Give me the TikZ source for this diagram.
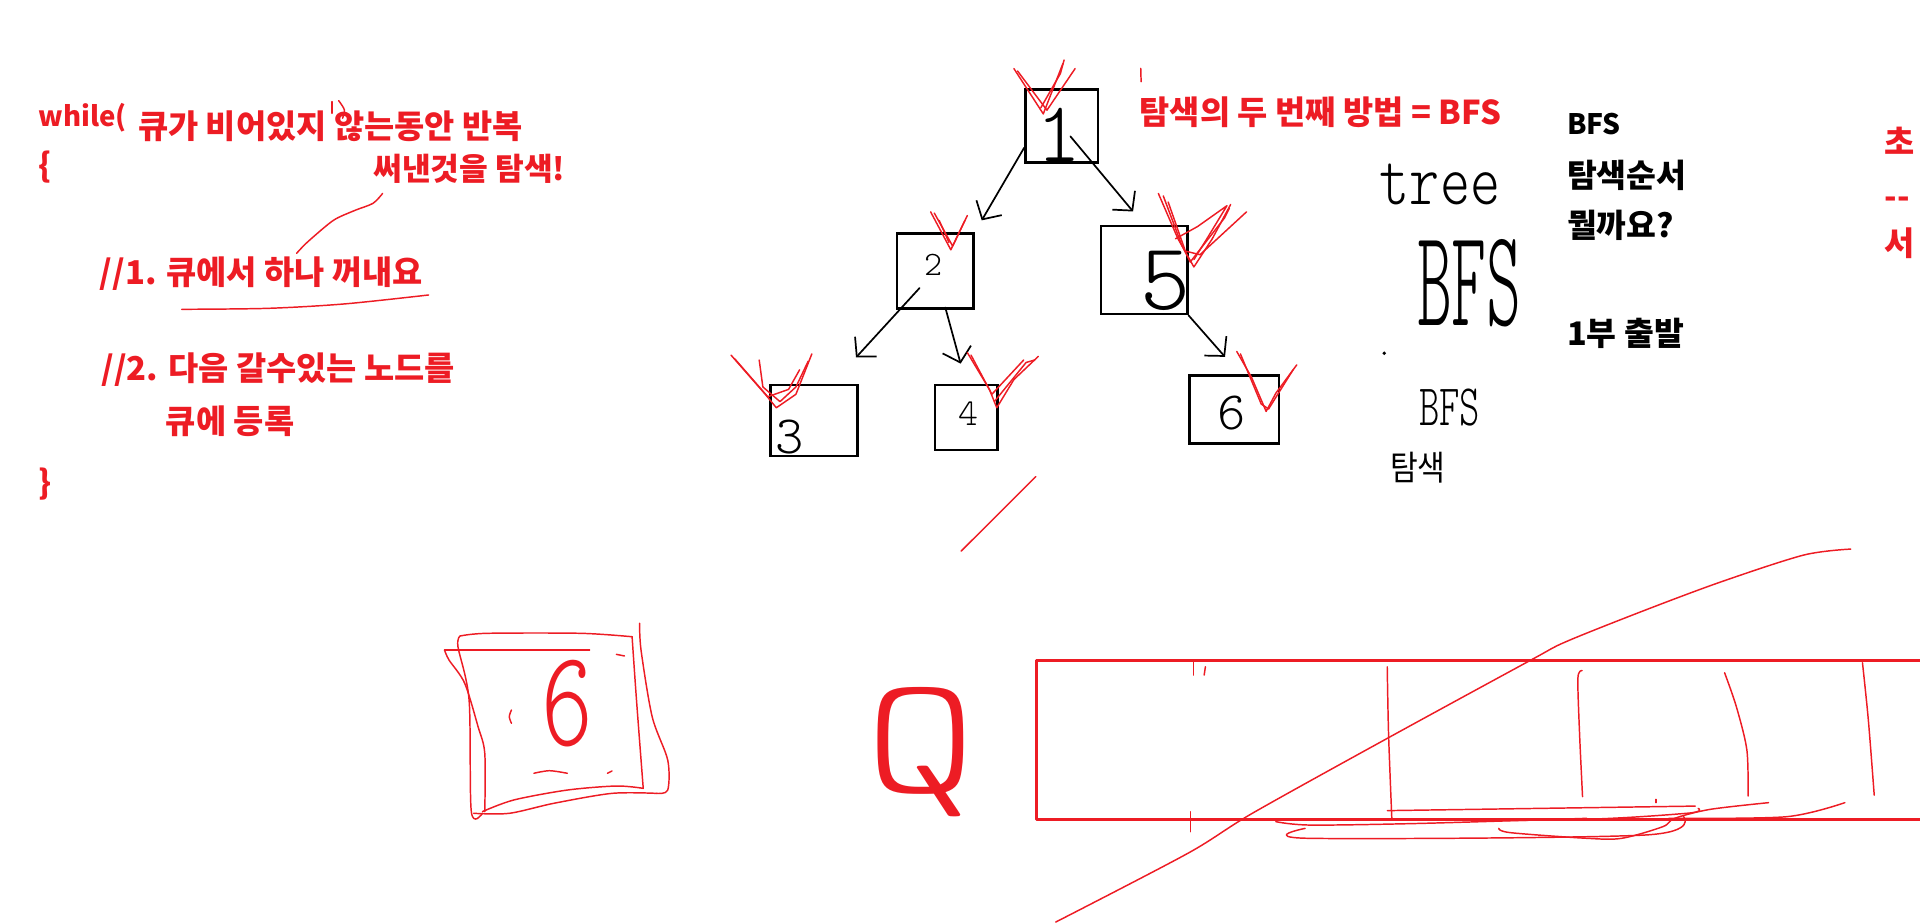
\documentclass[tikz,border=0pt]{standalone}
\usepackage{fontspec}
\setmainfont{Noto Sans CJK KR}
\newfontfamily\handfont{lmmonolt10-regular.otf}
\newfontfamily\krhand{Noto Sans CJK KR}
\usetikzlibrary{arrows.meta}
\definecolor{penred}{RGB}{237,28,36}

\begin{document}
\begin{tikzpicture}[x=1pt,y=-1pt,
  redtxt/.style={anchor=base west,inner sep=0pt,text=penred,font=\bfseries\fontsize{26.8}{30}\selectfont},
  blktxt/.style={anchor=base west,inner sep=0pt,font=\bfseries\fontsize{26.5}{30}\selectfont},
  box/.style={draw,line width=2.2pt,inner sep=0pt},
  digit/.style={inner sep=0pt,font=\handfont\fontsize{#1}{#1}\selectfont},
  pen/.style={draw=penred,line width=1.2pt,line cap=round,line join=round},
  ink/.style={draw=black,line width=1.4pt,line cap=round,line join=round},
  arr/.style={ink,-{Straight Barb[length=11pt,width=24pt,line width=1.4pt]}}]
\useasboundingbox (0,0) rectangle (1568,753);
\clip (0,0) rectangle (1568,753);

\node[redtxt,font=\bfseries\fontsize{22.5}{26}\selectfont] (wh) at (31.3,103.5) {while(};
\node[redtxt] (l1) at (112.5,113) {큐가 비어있지 않는동안 반복};
\node[redtxt] (ob) at (31.3,145) {\{};
\node[redtxt,font=\bfseries\fontsize{25.5}{30}\selectfont] (l2) at (304.7,147) {써낸것을 탐색!};
\node[redtxt] (s1) at (81.3,232) {//1. 큐에서 하나 꺼내요};
\node[redtxt] (s2) at (82.8,311) {//2. 다음 갈수있는 노드를};
\node[redtxt] (s3) at (135.3,354) {큐에 등록};
\node[redtxt] (cb) at (31.3,404) {\}};
\draw[pen] (271.3,83) -- (271.3,92.5);
\draw[pen] plot[smooth] coordinates {(276.6,82.2) (281.3,89.8) (279.7,96.6)};
\draw[pen] plot[smooth] coordinates {(242.2,206.9) (250,198.7) (265.6,185.1) (275,178.3) (290.6,171.5) (304.7,166) (312.5,157.9)};
\draw[pen] plot[smooth] coordinates {(148.4,252.6) (218.8,251.8) (281.3,248.2) (350,240.9)};

\node[redtxt] (ttl) at (930.6,102) {탐색의 두 번째 방법 = BFS};
\draw[pen] (931.6,55.8) -- (931.9,66.7);

\node[box,minimum width=59.2pt,minimum height=59.8pt] (n1) at (867.1,102.9) {};
\node[box,minimum width=62.6pt,minimum height=61.3pt] (n2) at (763.8,221.2) {};
\node[box,minimum width=70.5pt,minimum height=71.9pt] (n5) at (934.3,220.5) {};
\node[box,minimum width=71.1pt,minimum height=58pt] (n3) at (664.8,343.4) {};
\node[box,minimum width=50.8pt,minimum height=53.1pt] (n4) at (789,341) {};
\node[box,minimum width=73.4pt,minimum height=55.2pt] (n6) at (1007.9,334.4) {};
\node[digit=70] (d1) at (865,110) {1};
\node[digit=28] (d2) at (762,216) {2};
\node[digit=78] (d5) at (952,229) {5};
\node[digit=44] (d3) at (645,357) {3};
\node[digit=31] (d4) at (791,338) {4};
\node[digit=44] (d6) at (1006,337) {6};

\draw[arr, shorten >=11pt] (n1.210) -- (n2.north east);
\draw[arr, shorten <=11pt, shorten >=14pt] (n1.center) -- (n5.north);
\draw[arr, shorten <=19pt, shorten >=29pt] (n2.center) -- (n3.64);
\draw[arr, shorten <=31pt, shorten >=17pt] (n2.center) -- (n4.north);
\draw[arr, shorten >=19pt] (n5.south east) -- (n6.80);

\draw[pen] (828,56) -- (852,93) -- (868,52);
\draw[pen] (831,58) -- (855,90) -- (878,56);
\draw[pen] (850,88) -- (866,60) -- (869,49);
\draw[pen] (760,173) -- (776.5,204) -- (790,176);
\draw[pen] (763,174) -- (778,201) -- (788,180);
\draw[pen] (767,180) -- (775,198);
\draw[pen] (946,158) -- (962,195) -- (975,218) -- (990,195) -- (1005,167);
\draw[pen] (950,160) -- (965,200) -- (972,214) -- (1000,178) -- (1004,170);
\draw[pen] (954,165) -- (968,205) -- (980,208) -- (1018,173);
\draw[pen] (960,195) -- (978,185) -- (1002,168) -- (985,196) -- (975,212);
\draw[pen] (597,290) -- (625,322) -- (634,333) -- (650,322) -- (663,289);
\draw[pen] (600,293) -- (627,324) -- (644,318) -- (653,302);
\draw[pen] (620,294) -- (623,316) -- (637,328) -- (650,316) -- (660,295);
\draw[pen] (790,288) -- (808,318) -- (814,333) -- (828,310) -- (848,291);
\draw[pen] (793,290) -- (810,322) -- (836,294);
\draw[pen] (812,328) -- (838,296) -- (845,294);
\draw[pen] (1010,287) -- (1022,308) -- (1034,336) -- (1042,321) -- (1059,298);
\draw[pen] (1013,289) -- (1030,330) -- (1036,334) -- (1056,302);
\draw[pen] (785,450) -- (845.9,389.2);

\node[inner sep=0pt,font=\handfont\fontsize{60}{60}\selectfont] (tr) at (1176,151) {\scalebox{0.78}[1]{tree}};
\node[inner sep=0pt,font=\handfont\fontsize{113}{113}\selectfont] (bfs1) at (1200,231) {\scalebox{0.48}[1]{BFS}};
\fill (1130.5,288.5) circle (1.5pt);
\node[inner sep=0pt,font=\handfont\fontsize{48}{48}\selectfont] (bfs2) at (1184,333) {\scalebox{0.66}[1]{BFS}};
\node[inner sep=0pt,font=\krhand\fontsize{28}{28}\selectfont] (tm) at (1158,382) {\scalebox{0.88}[1]{탐색}};

\node[blktxt,font=\bfseries\fontsize{23}{28}\selectfont] (b1) at (1279.6,110) {BFS};
\node[blktxt] (b2) at (1279.6,153) {탐색순서};
\node[blktxt] (b3) at (1279.6,194) {뭘까요?};
\node[blktxt] (b4) at (1279.6,282) {1부 출발};

\node[redtxt] (r1) at (1539,126) {초};
\node[redtxt] (r2) at (1539,170) {-{}-};
\node[redtxt] (r3) at (1539,209) {서};

\draw[pen] plot[smooth] coordinates {(375.8,519.4) (397.7,517.2) (474.3,517.2) (516.2,520)};
\draw[pen] (363,530.8) -- (481.5,530.8);
\draw[pen] plot[smooth] coordinates {(375.8,519.4) (374,528.1) (383.1,571.7) (384.9,662.8) (394,664.2)};
\draw[pen] plot[smooth] coordinates {(363,530.8) (366.7,539) (379.5,558) (390.4,593.4) (395.9,615.2) (395.9,662.8)};
\draw[pen] plot[smooth] coordinates {(516.2,520) (519.8,571.7) (525.3,643.8)};
\draw[pen] plot[smooth] coordinates {(522.4,509) (523.5,530.8) (532.6,585.3) (545.3,620.7) (545.3,645.2) (536.2,647.9)};
\draw[pen] plot[smooth] coordinates {(525.3,643.8) (503.4,641.9) (463.3,645.2) (419.6,653.3) (394,662.8)};
\draw[pen] plot[smooth] coordinates {(536.2,647.9) (499.8,647.9) (452.4,656) (415.9,664.2) (386.8,664.2)};
\draw[pen] plot[smooth] coordinates {(417.7,579.8) (415.9,585.3) (417.7,590.7)};
\draw[pen] plot[smooth] coordinates {(436,631.5) (448.7,629.4) (463.3,631.5)};
\draw[pen] (503.4,534.4) -- (510,535.7);
\draw[pen] (496.1,631.5) -- (499.8,629.6);
\node[inner sep=0pt,text=penred,font=\handfont\fontsize{112}{112}\selectfont] (six) at (463,575) {\scalebox{0.72}[1]{6}};

\node[anchor=base,inner sep=0pt,text=penred,font=\handfont\fontsize{138}{138}\selectfont] (q) at (752,647) {\scalebox{1.25}[1]{Q}};

\draw[pen,line width=2.5pt] (846.4,539.6) rectangle (1590,669.1);
\draw[pen] (974.8,539.6) -- (974.8,551.3);
\draw[pen] (983.4,551.3) -- (984.4,544.5);
\draw[pen] (972.4,662.9) -- (972.4,679.2);
\draw[pen] plot[smooth] coordinates {(1132.9,544.5) (1134,600) (1136.7,669.7)};
\draw[pen] plot[smooth] coordinates {(1292,547.7) (1288.6,554) (1290,600) (1292.4,650.6)};
\draw[pen] plot[smooth] coordinates {(1408.4,549.4) (1418,577.1) (1426.6,612.5) (1427.6,650.1)};
\draw[pen] plot[smooth] coordinates {(1521,541.2) (1525.8,588) (1530.6,649.3)};
\draw[pen] (1133,662) -- (1384.5,658.3);
\draw[pen] plot[smooth] coordinates {(1041.9,669.1) (1271.8,669.7) (1377.2,664.2) (1386.8,660.2)};
\draw[pen] plot[smooth] coordinates {(1041.9,671) (1070.6,673.8) (1161.6,672.4) (1295.8,668.3)};
\draw[pen] plot[smooth] coordinates {(1065.8,676.5) (1068.2,684.6) (1343.7,681.9) (1374.9,666.9)};
\draw[pen] plot[smooth] coordinates {(1224,676.5) (1233.5,680) (1295.8,684.6) (1324.5,684.6) (1358,675.1) (1367.6,668.3) (1396.4,661) (1444.3,655.5)};
\draw[pen] plot[smooth] coordinates {(1362.9,668.3) (1458.7,667) (1506.6,655.5)};
\draw[pen] (1352.3,652.8) -- (1352.3,655.5);
\draw[pen] plot[smooth] coordinates {(862.2,753) (970,696.9) (1022.7,664.2) (1132.9,603) (1250.3,539) (1279,524) (1343.7,498.2) (1406,475) (1473,453.3) (1511.4,448.4)};
\end{tikzpicture}
\end{document}
